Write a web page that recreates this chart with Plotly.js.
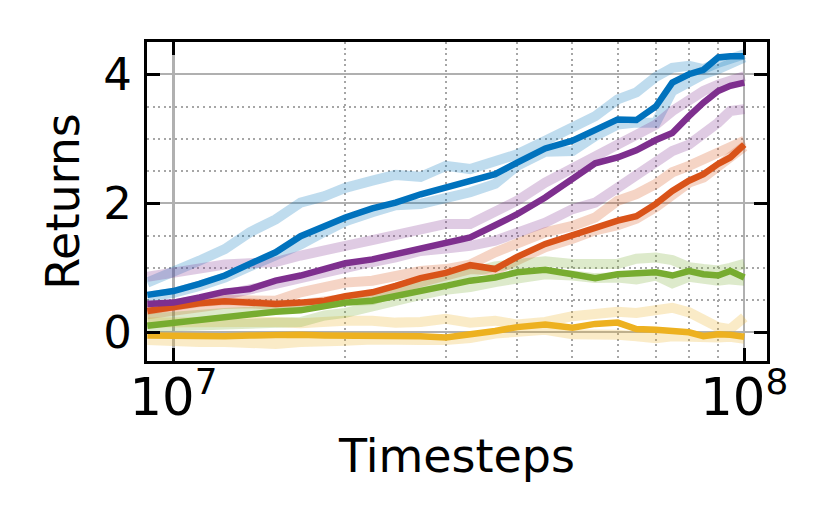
<!DOCTYPE html>
<html>
<head>
<meta charset="utf-8">
<script src="https://cdn.plot.ly/plotly-3.0.1.min.js"></script>
<style>
  html, body { margin: 0; padding: 0; background: #fff; }
  #chart { width: 829px; height: 526px; }
</style>
</head>
<body>
<div id="chart"></div>
<script>
// Returns vs timesteps (log x). Each run: bold mean line plus two faded seed lines.

const STEPS = [9.0e6, 1.0e7, 1.11e7, 1.23e7, 1.36e7, 1.51e7, 1.67e7, 1.84e7, 2.0e7, 2.23e7,
  2.45e7, 2.71e7, 3.0e7, 3.31e7, 3.66e7, 4.0e7, 4.48e7, 5.0e7, 5.48e7, 6.0e7,
  6.47e7, 7.0e7, 7.48e7, 8.0e7, 8.48e7, 9.0e7, 9.45e7, 1.0e8];

const BLUE_MEAN = [0.58, 0.64, 0.75, 0.88, 1.06, 1.24, 1.49, 1.64, 1.78, 1.92, 2.01, 2.14, 2.24, 2.34, 2.45, 2.63, 2.85, 2.97, 3.14, 3.30, 3.29, 3.50, 3.87, 4.00, 4.07, 4.26, 4.28, 4.28];
const BLUE_HI = [0.77, 0.93, 1.11, 1.29, 1.55, 1.75, 2.01, 2.11, 2.24, 2.35, 2.44, 2.41, 2.58, 2.53, 2.66, 2.76, 2.97, 3.16, 3.35, 3.61, 3.72, 3.96, 4.10, 4.13, 4.08, 4.18, 4.23, 4.31];
const BLUE_LO = [0.55, 0.61, 0.72, 0.85, 1.02, 1.19, 1.36, 1.56, 1.72, 1.86, 1.97, 1.99, 2.07, 2.17, 2.30, 2.58, 2.80, 2.81, 3.04, 3.22, 3.25, 3.25, 3.74, 3.89, 4.00, 4.08, 4.18, 4.26];

const ORANGE_MEAN = [0.33, 0.40, 0.45, 0.48, 0.47, 0.44, 0.46, 0.49, 0.56, 0.62, 0.72, 0.84, 0.92, 1.04, 0.98, 1.17, 1.37, 1.50, 1.63, 1.73, 1.80, 1.99, 2.19, 2.35, 2.45, 2.61, 2.71, 2.91];
const ORANGE_HI = [0.35, 0.42, 0.47, 0.50, 0.50, 0.49, 0.62, 0.72, 0.77, 0.80, 0.88, 0.95, 0.98, 1.05, 1.24, 1.39, 1.55, 1.65, 1.78, 2.04, 2.14, 2.30, 2.48, 2.58, 2.68, 2.76, 2.84, 2.97];
const ORANGE_LO = [0.28, 0.33, 0.40, 0.44, 0.45, 0.42, 0.43, 0.46, 0.52, 0.58, 0.68, 0.80, 0.88, 0.98, 0.96, 1.13, 1.32, 1.45, 1.58, 1.66, 1.76, 1.94, 2.14, 2.32, 2.40, 2.57, 2.68, 2.88];

const YELLOW_MEAN = [-0.05, -0.06, -0.07, -0.06, -0.05, -0.04, -0.04, -0.05, -0.05, -0.07, -0.05, -0.06, -0.08, -0.04, 0.02, 0.08, 0.12, 0.07, 0.13, 0.15, 0.05, 0.04, 0.02, 0.00, -0.06, -0.03, -0.04, -0.07];
const YELLOW_HI = [0.15, 0.15, 0.17, 0.18, 0.18, 0.16, 0.14, 0.18, 0.18, 0.18, 0.15, 0.16, 0.21, 0.15, 0.18, 0.12, 0.16, 0.25, 0.30, 0.32, 0.30, 0.33, 0.38, 0.31, 0.18, 0.08, 0.05, 0.23];
const YELLOW_LO = [-0.12, -0.15, -0.15, -0.15, -0.16, -0.18, -0.15, -0.15, -0.13, -0.11, -0.13, -0.12, -0.12, -0.09, -0.02, 0.02, 0.04, -0.03, -0.02, -0.04, -0.06, -0.09, -0.06, -0.08, -0.09, -0.08, -0.07, -0.10];

const PURPLE_MEAN = [0.44, 0.46, 0.54, 0.63, 0.67, 0.80, 0.88, 0.98, 1.07, 1.13, 1.21, 1.32, 1.39, 1.47, 1.66, 1.83, 2.09, 2.38, 2.62, 2.71, 2.82, 2.98, 3.09, 3.35, 3.56, 3.74, 3.82, 3.87];
const PURPLE_HI = [0.86, 0.92, 1.00, 1.05, 1.07, 1.09, 1.19, 1.29, 1.34, 1.43, 1.52, 1.60, 1.68, 1.68, 1.88, 2.04, 2.32, 2.55, 2.76, 2.91, 3.06, 3.22, 3.43, 3.61, 3.74, 3.84, 3.89, 3.97];
const PURPLE_LO = [0.41, 0.43, 0.50, 0.58, 0.63, 0.75, 0.84, 0.93, 1.02, 1.09, 1.16, 1.26, 1.30, 1.34, 1.42, 1.55, 1.70, 1.91, 2.01, 2.24, 2.42, 2.61, 2.81, 2.91, 3.07, 3.25, 3.43, 3.46];

const GREEN_MEAN = [0.10, 0.15, 0.18, 0.23, 0.28, 0.32, 0.34, 0.41, 0.46, 0.49, 0.57, 0.64, 0.72, 0.80, 0.85, 0.93, 0.97, 0.90, 0.84, 0.90, 0.91, 0.93, 0.88, 0.95, 0.90, 0.88, 0.95, 0.85];
const GREEN_HI = [0.21, 0.25, 0.28, 0.30, 0.32, 0.35, 0.38, 0.44, 0.48, 0.50, 0.62, 0.75, 0.85, 0.92, 1.02, 1.06, 1.10, 1.06, 1.05, 1.06, 1.14, 1.16, 1.12, 1.01, 0.98, 0.96, 1.00, 1.06];
const GREEN_LO = [0.08, 0.10, 0.12, 0.14, 0.15, 0.15, 0.16, 0.26, 0.30, 0.40, 0.50, 0.58, 0.66, 0.70, 0.78, 0.84, 0.90, 0.88, 0.84, 0.85, 0.82, 0.88, 0.76, 0.86, 0.82, 0.80, 0.82, 0.80];

// MATLAB-style palette, drawn in this order (last on top)
const RUNS = [
  { rgb: [0, 114, 189], mean: BLUE_MEAN, seeds: [BLUE_HI, BLUE_LO] },
  { rgb: [217, 83, 25], mean: ORANGE_MEAN, seeds: [ORANGE_HI, ORANGE_LO] },
  { rgb: [237, 177, 32], mean: YELLOW_MEAN, seeds: [YELLOW_HI, YELLOW_LO] },
  { rgb: [126, 47, 142], mean: PURPLE_MEAN, seeds: [PURPLE_HI, PURPLE_LO] },
  { rgb: [119, 172, 48], mean: GREEN_MEAN, seeds: [GREEN_HI, GREEN_LO] },
];

const FONT = "'DejaVu Sans', sans-serif";
const GRID = "#b0b0b0";
const MINOR_GRID = "#a6a6a6";
const DOTS = "2px,3.6px";

const rgba = (c, a) => `rgba(${c[0]},${c[1]},${c[2]},${a})`;

const faded = RUNS.flatMap((r) => r.seeds.map((y) => ({
  x: STEPS, y, mode: "lines", hoverinfo: "skip",
  line: { color: rgba(r.rgb, 0.25), width: 10 },
})));
const bold = RUNS.map((r) => ({
  x: STEPS, y: r.mean, mode: "lines",
  line: { color: rgba(r.rgb, 1), width: 6.5 },
}));

function axisBase() {
  return {
    showline: true, linecolor: "#000", linewidth: 3, mirror: "ticks",
    ticks: "inside", ticklen: 13, tickwidth: 2.6, tickcolor: "#000",
    showgrid: true, gridcolor: GRID, gridwidth: 2.2, zeroline: false,
    tickfont: { family: FONT, size: 45, color: "#000" },
    automargin: false,
  };
}

const layout = {
  width: 829, height: 526,
  margin: { l: 147, r: 62, t: 42, b: 165 },
  paper_bgcolor: "#fff", plot_bgcolor: "#fff",
  showlegend: false,
  font: { family: FONT, color: "#000" },
  xaxis: {
    ...axisBase(),
    type: "log", range: [6.9536, 8.0398], dtick: 1, exponentformat: "power",
    tickfont: { family: FONT, size: 41, color: "#000" },
    ticklabelstandoff: -8,
    minor: { dtick: "D1", showgrid: true, gridcolor: MINOR_GRID, gridwidth: 2, griddash: DOTS, ticks: "" },
    title: { text: "Timesteps", font: { family: FONT, size: 46 }, standoff: 14 },
  },
  yaxis: {
    ...axisBase(),
    range: [-0.445, 4.5], tick0: 0, dtick: 2,
    ticklabelstandoff: 3,
    minor: { dtick: 0.5, showgrid: true, gridcolor: MINOR_GRID, gridwidth: 2, griddash: DOTS, ticks: "" },
    title: { text: "Returns", font: { family: FONT, size: 46 }, standoff: 10 },
  },
};

Plotly.newPlot("chart", [...faded, ...bold], layout, { displayModeBar: false, staticPlot: true });
</script>
</body>
</html>
